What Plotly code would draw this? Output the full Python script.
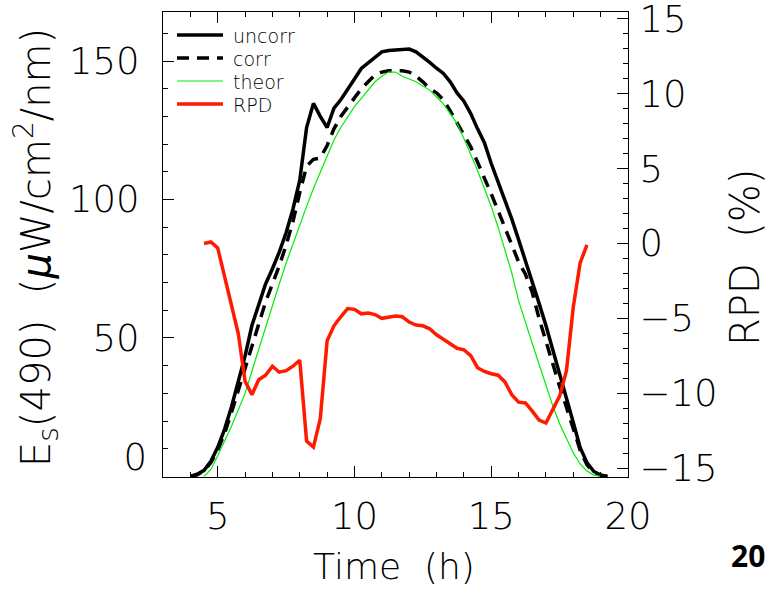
import plotly.graph_objects as go

# ---- data ----
time_es = [4.0, 4.25, 4.5, 4.75, 5.0, 5.25, 5.5, 5.75, 6.0, 6.25, 6.5, 6.75, 7.0, 7.25, 7.5, 7.75,
           8.0, 8.25, 8.5, 8.75, 9.0, 9.25, 9.5, 9.75, 10.0, 10.25, 10.5, 10.75, 11.0, 11.25, 11.5, 11.75,
           12.0, 12.25, 12.5, 12.75, 13.0, 13.25, 13.5, 13.75, 14.0, 14.25, 14.5, 14.75, 15.0, 15.25, 15.5, 15.75,
           16.0, 16.25, 16.5, 16.75, 17.0, 17.25, 17.5, 17.75, 18.0, 18.25, 18.5, 18.75, 19.0, 19.25]

uncorr = [0, 0.8, 2.2, 5.5, 10.5, 17, 25, 34, 43.5, 54.5, 62, 69.5, 75, 81, 88, 96.5,
          107, 126, 134.7, 130, 126, 133, 136, 140, 143.5, 147.3, 149.3, 151.3, 153.3, 153.8, 154, 154.2,
          154.3, 153.3, 151.5, 149.5, 147.4, 145.5, 142.5, 138.5, 135.5, 131, 125.5, 120.5, 113, 106.5, 100, 93,
          85.5, 78, 70.5, 62.5, 54.5, 46, 37.5, 28.5, 19.5, 10.5, 5, 1.8, 0.5, 0]

corr = [0, 0.6, 2, 5, 9.5, 15.5, 23, 31, 40, 47, 55, 63, 69.5, 76, 83.5, 92,
        102.5, 112, 114.5, 115, 119.5, 125.5, 130, 133.5, 136.5, 140, 142.5, 145, 146, 146.5, 146.5, 146.5,
        146, 144.5, 142.5, 140, 138.5, 136, 132, 127.5, 123.5, 119, 113.5, 108, 102, 96, 90, 83.5,
        77.5, 73, 66.5, 57, 48.5, 40.5, 32.5, 25, 17.5, 9.5, 4.2, 1.5, 0.4, 0]

time_th = [4.5, 4.75, 5.0, 5.25, 5.5, 5.75, 6.0, 6.25, 6.5, 6.75, 7.0, 7.25, 7.5, 7.75,
           8.0, 8.25, 8.5, 8.75, 9.0, 9.25, 9.5, 9.75, 10.0, 10.25, 10.5, 10.75, 11.0, 11.25, 11.5, 11.75,
           12.0, 12.25, 12.5, 12.75, 13.0, 13.25, 13.5, 13.75, 14.0, 14.25, 14.5, 14.75, 15.0, 15.25, 15.5, 15.75,
           16.0, 16.25, 16.5, 16.75, 17.0, 17.25, 17.5, 17.75, 18.0, 18.25, 18.5, 18.75, 19.0]

theor = [0, 2.5, 7.5, 12.5, 18, 24, 30, 38, 46, 54, 62, 69.5, 77, 84,
         91, 97.5, 104, 110, 116, 121.5, 126, 130, 133.5, 136.5, 139.5, 142.5, 144.5, 146, 146, 144.5,
         143.5, 142.5, 141, 139.5, 137, 134.5, 131, 127.5, 122, 116.5, 110.5, 104, 97.5, 90, 82, 73.5,
         63.5, 55.5, 48, 40.5, 33, 25.5, 19, 13.5, 8.5, 4.5, 2, 0.5, 0]

time_rpd = [4.5, 4.75, 5.0, 5.25, 5.5, 5.75, 6.0, 6.25, 6.5, 6.75, 7.0, 7.25, 7.5, 7.75,
            8.0, 8.25, 8.5, 8.75, 9.0, 9.25, 9.5, 9.75, 10.0, 10.25, 10.5, 10.75, 11.0, 11.25, 11.5, 11.75,
            12.0, 12.25, 12.5, 12.75, 13.0, 13.25, 13.5, 13.75, 14.0, 14.25, 14.5, 14.75, 15.0, 15.25, 15.5, 15.75,
            16.0, 16.25, 16.5, 16.75, 17.0, 17.25, 17.5, 17.75, 18.0, 18.25, 18.5]

rpd = [0.0, 0.1, -0.3, -2.2, -4.2, -6.0, -9.2, -10.1, -9.1, -8.8, -8.2, -8.6, -8.5, -8.2,
       -7.8, -13.2, -13.6, -11.7, -6.5, -5.5, -4.9, -4.35, -4.4, -4.7, -4.65, -4.75, -5.0, -4.9, -4.85, -4.9,
       -5.25, -5.45, -5.5, -5.7, -6.1, -6.4, -6.7, -7.0, -7.1, -7.5, -8.3, -8.55, -8.7, -8.8, -9.25, -10.1,
       -10.6, -10.65, -11.2, -11.8, -12.0, -11.05, -10.2, -8.5, -4.25, -1.3, -0.1]

x_ticks = [5, 10, 15, 20]
es_ticks = [0, 50, 100, 150]
es_ticktext = ["", "50", "100", "150"]      # "0" is drawn slightly raised, as in the reference
rpd_ticks = [-15, -10, -5, 0, 5, 10, 15]

series_names = ["uncorr", "corr", "theor", "RPD"]
series_colors = ["black", "black", "#00ee00", "#ff1a00"]
series_widths = [3.5, 3.5, 1.2, 3.5]
series_dash = ["solid", "12px,8px", "solid", "solid"]

FONT = "DejaVu Sans"
WEIGHT = 200
TICK_SIZE = 37

# paper-coordinate helpers (plot box: 163..628 x 12..477 px)
L, R, T, B = 163, 628, 12, 477
def px(xp):
    return (xp - L) / (R - L)
def py(yp):
    return (B - yp) / (B - T)

fig = go.Figure()
fig.add_trace(go.Scatter(x=time_es, y=uncorr, name=series_names[0], mode="lines", showlegend=False,
                         line=dict(color=series_colors[0], width=series_widths[0], dash=series_dash[0])))
fig.add_trace(go.Scatter(x=time_es, y=corr, name=series_names[1], mode="lines", showlegend=False,
                         line=dict(color=series_colors[1], width=series_widths[1], dash=series_dash[1])))
fig.add_trace(go.Scatter(x=time_th, y=theor, name=series_names[2], mode="lines", showlegend=False,
                         line=dict(color=series_colors[2], width=series_widths[2], dash=series_dash[2])))
fig.add_trace(go.Scatter(x=time_rpd, y=rpd, name=series_names[3], mode="lines", yaxis="y2", showlegend=False,
                         line=dict(color=series_colors[3], width=series_widths[3], dash=series_dash[3])))
# empty traces anchoring the helper axes (raised "0" label, top tick marks)
fig.add_trace(go.Scatter(x=[], y=[], yaxis="y3", showlegend=False, hoverinfo="skip"))
fig.add_trace(go.Scatter(x=[], y=[], xaxis="x2", showlegend=False, hoverinfo="skip"))

tickfont = dict(size=TICK_SIZE, family=FONT, weight=WEIGHT, color="black")

# legend drawn as keys + labels inside the plot box
shapes = []
annotations = []
row_y = [35, 58, 81, 104]
for name, col, w, d, yy in zip(series_names, series_colors, series_widths, series_dash, row_y):
    shapes.append(dict(type="line", xref="paper", yref="paper",
                       x0=px(177), x1=px(223), y0=py(yy), y1=py(yy),
                       line=dict(color=col, width=w, dash=d)))
    annotations.append(dict(text=name, xref="paper", yref="paper", x=px(231), y=py(yy + 1),
                            xanchor="left", yanchor="middle", showarrow=False,
                            font=dict(size=19, family=FONT, weight=WEIGHT, color="black")))

annotations += [
    dict(text="E<sub>s</sub>(490)  (<i>μ</i>W/cm<sup>2</sup>/nm)", xref="paper", yref="paper",
         x=px(36), y=py(248), textangle=-90, showarrow=False,
         font=dict(size=40, family=FONT, weight=WEIGHT, color="black"),
         xanchor="center", yanchor="middle"),
    dict(text="RPD  (%)", xref="paper", yref="paper",
         x=px(745), y=py(258), textangle=-90, showarrow=False,
         font=dict(size=40, family=FONT, weight=WEIGHT, color="black"),
         xanchor="center", yanchor="middle"),
    dict(text="Time  (h)", xref="paper", yref="paper",
         x=px(394), y=py(566), showarrow=False,
         font=dict(size=36, family=FONT, weight=WEIGHT, color="black"),
         xanchor="center", yanchor="middle"),
    dict(text="<b>20</b>", xref="paper", yref="paper",
         x=px(748), y=py(555), showarrow=False,
         font=dict(size=30, family="Open Sans", color="black"), xanchor="center", yanchor="middle"),
]

fig.update_layout(
    width=770, height=591,
    margin=dict(l=L, r=770 - R, t=T, b=591 - B, autoexpand=False),
    paper_bgcolor="white", plot_bgcolor="white",
    font=dict(family=FONT, color="black"),
    showlegend=False,
    xaxis=dict(range=[3, 20], tickvals=x_ticks, automargin=False,
               ticks="inside", ticklen=11, tickcolor="black", tickwidth=1,
               minor=dict(ticks="inside", dtick=1, ticklen=5, tickcolor="black"),
               showline=True, linecolor="black", linewidth=1, mirror=True,
               showgrid=False, zeroline=False,
               tickfont=tickfont, ticklabelstandoff=7),
    xaxis2=dict(range=[3, 20], tickvals=x_ticks, overlaying="x", side="top", anchor="y",
                automargin=False,
                ticks="inside", ticklen=11, tickcolor="black", tickwidth=1,
                minor=dict(ticks="inside", dtick=1, ticklen=5, tickcolor="black"),
                showticklabels=False, showline=True, linecolor="black", linewidth=1,
                showgrid=False, zeroline=False),
    yaxis=dict(range=[-0.2, 167.7], tickvals=es_ticks, ticktext=es_ticktext, automargin=False,
               ticks="inside", ticklen=11, tickcolor="black", tickwidth=1,
               minor=dict(ticks="inside", dtick=10, ticklen=5, tickcolor="black"),
               showline=True, linecolor="black", linewidth=1, mirror=False,
               showgrid=False, zeroline=False,
               tickfont=tickfont, ticklabelstandoff=15, ticklabeloverflow="allow"),
    yaxis3=dict(range=[-0.2, 167.7], tickvals=[0], ticktext=["0"], overlaying="y", side="left",
                anchor="x", automargin=False,
                ticks="", showline=False, showgrid=False, zeroline=False,
                tickfont=tickfont, ticklabelstandoff=15, ticklabelshift=-19, ticklabeloverflow="allow"),
    yaxis2=dict(range=[-15.6, 15.46], tickvals=rpd_ticks, overlaying="y", side="right", anchor="x",
                automargin=False,
                ticks="inside", ticklen=11, tickcolor="black", tickwidth=1,
                minor=dict(ticks="inside", dtick=1, ticklen=5, tickcolor="black"),
                showline=True, linecolor="black", linewidth=1,
                showgrid=False, zeroline=False,
                tickfont=tickfont, ticklabelstandoff=3, ticklabeloverflow="allow"),
    shapes=shapes,
    annotations=annotations,
)

fig.write_html("out.html")
